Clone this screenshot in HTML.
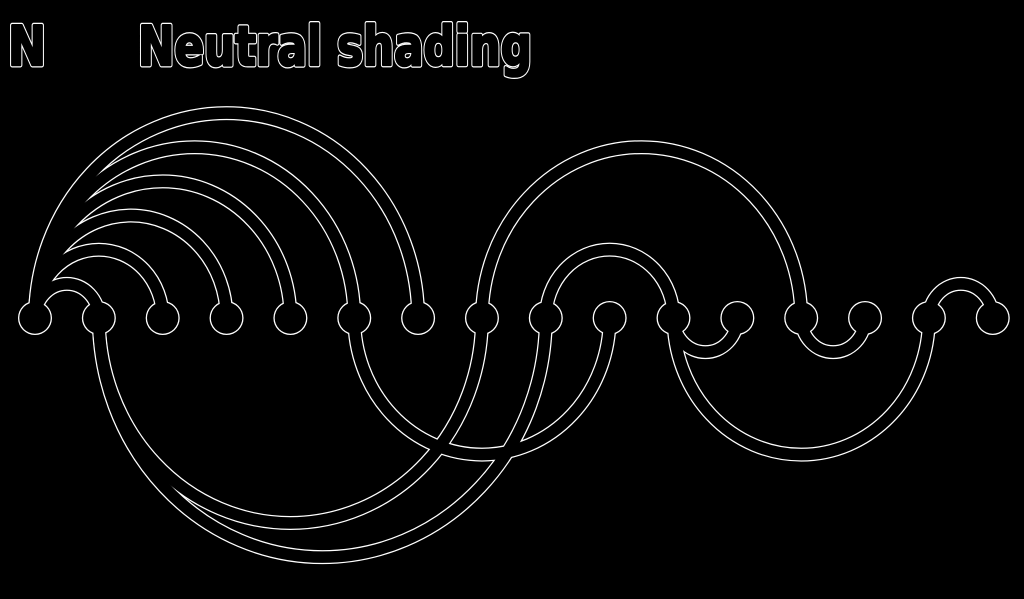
<!DOCTYPE html>
<html><head><meta charset="utf-8"><style>
html,body{margin:0;padding:0;background:#000;}
svg{display:block;}
</style></head><body>
<svg id="chart" width="1024" height="599" viewBox="0 0 1024 599" xmlns="http://www.w3.org/2000/svg">
<rect width="1024" height="599" fill="#000"/>
<g font-family="DejaVu Sans, Liberation Sans, sans-serif" font-weight="bold" font-size="54">
<text x="8" y="65" fill="#fff" stroke="#fff" stroke-width="5" stroke-linejoin="round" textLength="38" lengthAdjust="spacingAndGlyphs">N</text>
<text x="8" y="65" fill="#000" stroke="#000" stroke-width="2.6" stroke-linejoin="round" textLength="38" lengthAdjust="spacingAndGlyphs">N</text>
<text x="138" y="65" fill="#fff" stroke="#fff" stroke-width="5" stroke-linejoin="round" textLength="394" lengthAdjust="spacingAndGlyphs">Neutral shading</text>
<text x="138" y="65" fill="#000" stroke="#000" stroke-width="2.6" stroke-linejoin="round" textLength="394" lengthAdjust="spacingAndGlyphs">Neutral shading</text>
</g>
<g id="whiteLayer"></g>
<g id="blackLayer"></g>
</svg>
<script>
const nodeIds = [0,1,2,3,4,5,6,7,8,9,10,11,12,13,14,15];
const arcsAbove = [[0,1],[0,2],[0,3],[0,4],[0,5],[0,6],[7,12],[8,10],[14,15]];
const arcsBelow = [[1,7],[1,8],[5,9],[10,11],[12,13],[10,14]];
const NS='http://www.w3.org/2000/svg';
const x0=35, dx=63.85, yBase=318;
function xScale(i){return x0+i*dx;}
const wG=document.getElementById('whiteLayer'), bG=document.getElementById('blackLayer');
function arcPath(a,b,up){
  const xa=xScale(a), xb=xScale(b), r=(xb-xa)/2;
  const ry=r*1.07;
  return `M${xa},${yBase} A${r},${ry} 0 0 ${up?1:0} ${xb},${yBase}`;
}
function drawArc(p,up,k){
  const w=document.createElementNS(NS,'path');
  w.setAttribute('d',arcPath(p[0],p[1],up));
  w.setAttribute('fill','none');w.setAttribute('stroke','#fff');w.setAttribute('stroke-width','14');
  
  
  wG.appendChild(w);
  const b=document.createElementNS(NS,'path');
  b.setAttribute('d',arcPath(p[0],p[1],up));
  b.setAttribute('fill','none');b.setAttribute('stroke','#000');b.setAttribute('stroke-width','11.5');
  
  
  bG.appendChild(b);
}
arcsAbove.forEach((p,k)=>drawArc(p,true,k));
arcsBelow.forEach((p,k)=>drawArc(p,false,k));
nodeIds.forEach(i=>{
  const c=document.createElementNS(NS,'circle');
  c.setAttribute('cx',xScale(i));c.setAttribute('cy',yBase);c.setAttribute('r','17');
  c.setAttribute('fill','#fff');
  
  
  wG.appendChild(c);
  const d=document.createElementNS(NS,'circle');
  d.setAttribute('cx',xScale(i));d.setAttribute('cy',yBase);d.setAttribute('r','15.7');
  d.setAttribute('fill','#000');
  
  
  bG.appendChild(d);
});
</script>
</body></html>
